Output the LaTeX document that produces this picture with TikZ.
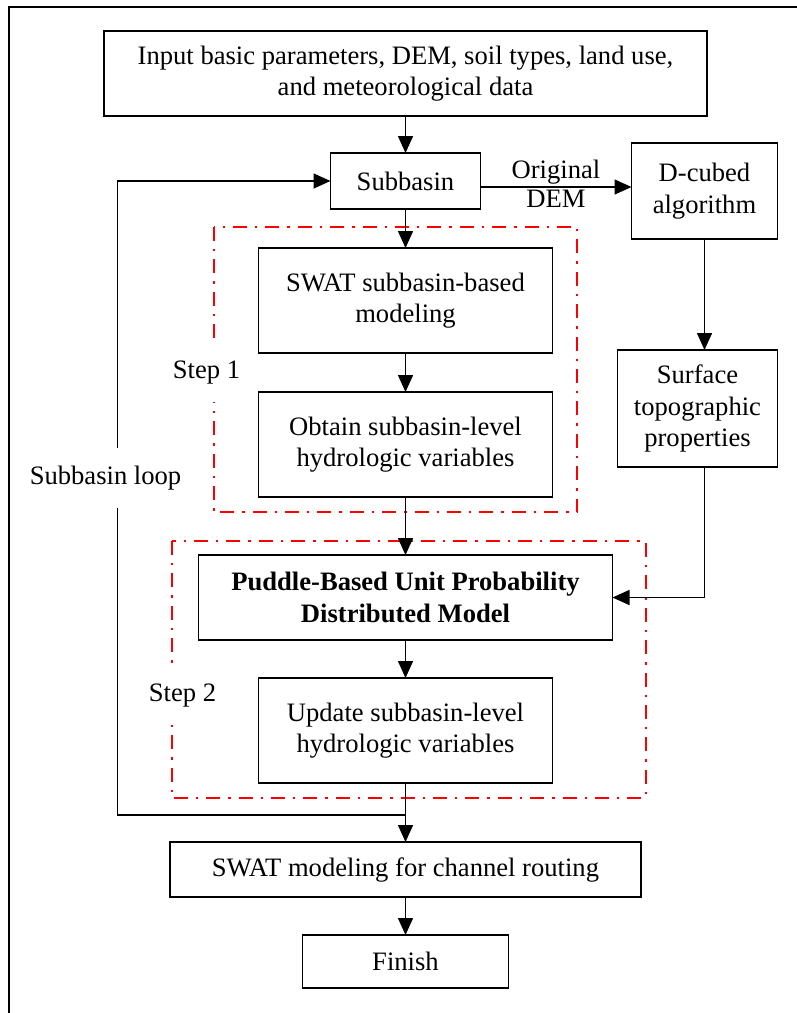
\documentclass[tikz,border=0pt]{standalone}
\usepackage{fontspec}
\setmainfont{Liberation Serif}
\usetikzlibrary{positioning, arrows.meta, calc}

\begin{document}
\begin{tikzpicture}[
    x=0.5pt, y=-0.5pt,
    node distance=19.5pt,
    box/.style={rectangle, draw, line width=0.9pt, outer sep=0pt, align=center, inner sep=2pt, font=\fontsize{13.3}{15.8}\selectfont},
    arrow/.style={-{Triangle[length=8.5pt, width=7.5pt]}, line width=0.75pt},
    stepframe/.style={draw=red, line width=1pt, dash pattern=on 7pt off 4pt on 1.2pt off 4pt},
    tag/.style={fill=white, inner xsep=2pt, inner ysep=9pt, font=\fontsize{13.3}{15.8}\selectfont},
]

%% CANVAS
    \useasboundingbox (0,0) rectangle (797,1013);
    \draw[line width=0.6pt] (9,1030) -- (9,7) -- (810,7);

%% NODES
    % main column
    \node[box, minimum width=301.5pt, minimum height=42.5pt] (input) at (405.5,73.5) {Input basic parameters, DEM, soil types, land use,\\and meteorological data};
    \node[box, minimum width=75pt, minimum height=28pt, below=18.5pt of input] (subbasin) {Subbasin};
    \node[box, minimum width=147pt, minimum height=52.5pt, below=of subbasin] (model) {SWAT subbasin-based\\modeling};
    \node[box, minimum width=147pt, minimum height=52.5pt, below=of model] (obtain) {Obtain subbasin-level\\hydrologic variables};
    \node[box, minimum width=207pt, minimum height=42.5pt, below=29pt of obtain] (puddle) {\textbf{Puddle-Based Unit Probability}\\\textbf{Distributed Model}};
    \node[box, minimum width=147pt, minimum height=52.5pt, below=19pt of puddle] (update) {Update subbasin-level\\hydrologic variables};
    \node[box, minimum width=235.5pt, minimum height=27.5pt, below=29.5pt of update] (channel) {SWAT modeling for channel routing};
    \node[box, minimum width=103pt, minimum height=26.5pt, below=19pt of channel] (finish) {Finish};

    % DEM branch
    \node[box, minimum width=73pt, minimum height=48pt, right=75.5pt of subbasin, yshift=-5pt] (dcubed) {D-cubed\\algorithm};
    \node[box, minimum width=80pt, minimum height=58.5pt, below=55.5pt of dcubed, xshift=-3.5pt] (surface) {Surface\\topographic\\properties};

    % step frames
    \draw[stepframe] ($(model.north west)+(-45,-21)$) rectangle ($(obtain.south east)+(24.5,15)$);
    \draw[stepframe] ($(puddle.north west)+(-27,-14)$) rectangle ($(puddle.east |- update.south)+(33,15)$);
    \node[tag] (step1) at ($(model.south west)!0.5!(obtain.north west)+(-52,0)$) {Step 1};
    \node[tag] (step2) at ($(update.west)+(-76,-35)$) {Step 2};

%% CONNECTIONS
    \draw[arrow] (input) -- (subbasin);
    \draw[arrow] (subbasin) -- (model);
    \draw[arrow] (model) -- (obtain);
    \draw[arrow] (obtain) -- (puddle);
    \draw[arrow] (puddle) -- (update);
    \draw[arrow] (update) -- (channel);
    \draw[arrow] (channel) -- (finish);

    % Subbasin -> D-cubed
    \draw[arrow] ([yshift=-3pt]subbasin.east) -- node[above, inner sep=1pt, font=\fontsize{13.3}{15.8}\selectfont] {Original} node[below, inner sep=1pt, font=\fontsize{13.3}{15.8}\selectfont] {DEM} ([yshift=-3pt]subbasin.east -| dcubed.west);

    % D-cubed -> surface -> puddle
    \draw[arrow] (dcubed.south) -- (dcubed.south |- surface.north);
    \draw[arrow] (dcubed.south |- surface.south) |- (puddle.east);

    % subbasin loop
    \coordinate[below=16pt of update.south] (split);
    \coordinate[left=144pt of split] (loopcorner);
    \draw[arrow] (split) -- (loopcorner) |- node[pos=0.266, tag, xshift=-6pt] (looplabel) {Subbasin loop} (subbasin.west);

\end{tikzpicture}
\end{document}
